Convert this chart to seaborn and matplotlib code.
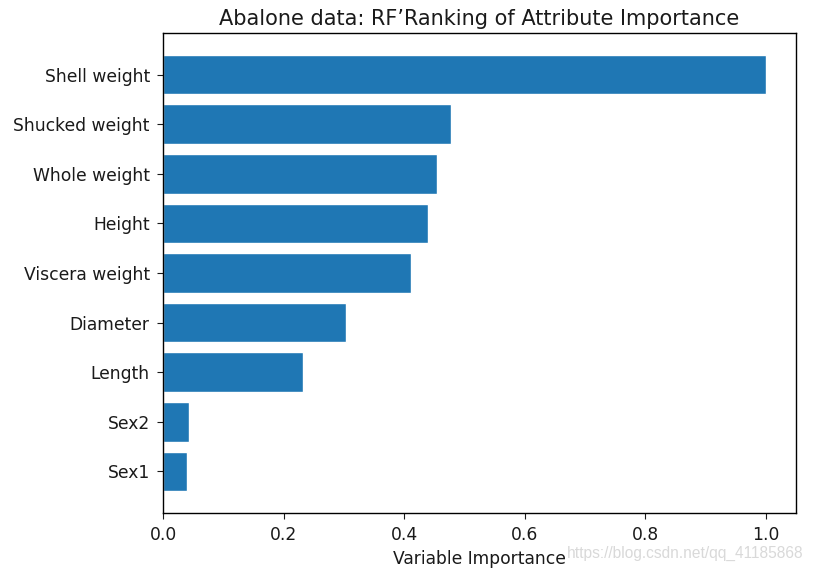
import matplotlib
matplotlib.use("Agg")
import matplotlib.pyplot as plt
import seaborn as sns
import pandas as pd

# DATA
attributes = ["Shell weight", "Shucked weight", "Whole weight", "Height",
              "Viscera weight", "Diameter", "Length", "Sex2", "Sex1"]
importance = [1.0, 0.477, 0.455, 0.440, 0.412, 0.304, 0.233, 0.043, 0.040]

df = pd.DataFrame({"attribute": attributes, "importance": importance})

sns.set_style("ticks")
plt.rcParams.update({
    "font.family": ["DejaVu Sans"],
    "text.color": "#1a1a1a",
    "axes.labelcolor": "#1a1a1a",
    "xtick.color": "#1a1a1a",
    "ytick.color": "#1a1a1a",
    "axes.edgecolor": "black",
    "axes.linewidth": 1.0,
})

fig = plt.figure(figsize=(8.13, 5.69), dpi=100)
ax = fig.add_axes([0.2005, 0.0984, 0.7785, 0.8436])

sns.barplot(
    data=df,
    x="importance",
    y="attribute",
    orient="h",
    color="#1f77b4",
    saturation=1,
    width=0.8,
    ax=ax
)

ax.set_xlim(0, 1.05)
ax.set_ylim(8.84, -0.84)
ax.set_xticks([0.0, 0.2, 0.4, 0.6, 0.8, 1.0])
ax.set_xticklabels(["0.0", "0.2", "0.4", "0.6", "0.8", "1.0"])
ax.tick_params(labelsize=12.3, length=4)
ax.tick_params(axis="y", pad=5.5)
ax.tick_params(axis="x", pad=5)

ax.set_title("Abalone data: RF\u2019Ranking of Attribute Importance", fontsize=15, pad=6)
ax.set_xlabel("Variable Importance", fontsize=12.3, labelpad=5)
ax.set_ylabel("")

# faint watermark in the lower right corner
fig.text(0.988, 0.027, "https://blog.csdn.net/qq_41185868", ha="right", va="center",
         fontsize=11.2, color="#d9d9d9", family=["Liberation Sans", "DejaVu Sans"])

plt.savefig("out.png", dpi=100)
